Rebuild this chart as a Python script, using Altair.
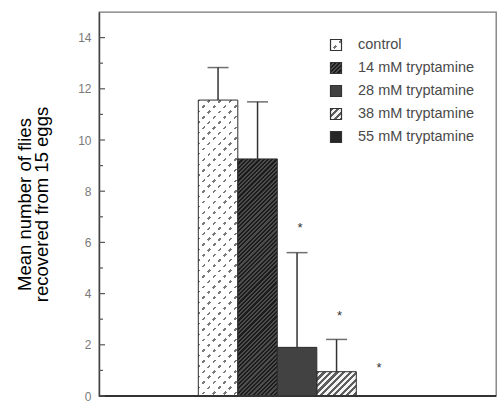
import math
import altair as alt
import pandas as pd

# ---------------- data ----------------
cats = ["control", "14 mM", "28 mM", "38 mM", "55 mM"]
legend_labels = ["control", "14 mM  tryptamine", "28 mM tryptamine",
                 "38 mM tryptamine", "55 mM tryptamine"]
means = [11.56, 9.26, 1.90, 0.95, 0.0]
err_upper = [12.83, 11.49, 5.60, 2.21, None]
star_cats = ["28 mM", "38 mM", "55 mM"]
star_y = [6.7, 3.3, 1.25]
y_major = [0, 2, 4, 6, 8, 10, 12, 14]
y_minor = [1, 3, 5, 7, 9, 11, 13]
y_title = ["Mean number of flies", "recovered from 15 eggs"]

# ---------------- layout / style ----------------
W, H = 397, 384
Y_MAX = 15
BAR_START, STEP = 99.3, 39.5
FONT = "Liberation Sans"

df = pd.DataFrame({"cat": cats, "mean": means, "up": err_upper})
df_bars = df[df["mean"] > 0]
df_err = df.dropna(subset=["up"])
df_star = pd.DataFrame({"cat": star_cats, "y": star_y})
df_major = pd.DataFrame({"v": y_major})
df_minor = pd.DataFrame({"v": y_minor})
df_base = pd.DataFrame({"v": [0]})
one = pd.DataFrame({"a": [0]})

xscale = alt.Scale(domain=cats, paddingInner=0, paddingOuter=0,
                   range=[BAR_START, BAR_START + STEP * len(cats)])
yscale = alt.Scale(domain=[0, Y_MAX], nice=False, zero=True)
xaxis = alt.Axis(labels=False, ticks=False, title=None, domain=False, grid=False)
yaxis = alt.Axis(values=y_major, ticks=False, grid=False, labelColor="#7a7a7a",
                 labelFontSize=12, labelFont=FONT, labelPadding=8,
                 domainColor="#444444", domainWidth=1.5, title=y_title,
                 titleFontSize=18.5, titleFont=FONT, titleFontWeight="normal",
                 titleColor="#000000", titleLineHeight=17, titlePadding=26)


def X():
    return alt.X("cat:N", scale=xscale, axis=xaxis, sort=cats)


def Yf(field):
    return alt.Y(field, scale=yscale, axis=yaxis)


def stripes(w, h, period, frac, c_line, c_gap, direction="/"):
    """Linear gradient that draws diagonal stripes in a w x h box."""
    L = w + h
    k = L / (w * w + h * h)
    a, b = w * k, h * k
    n = L / (period * math.sqrt(2))
    stops = []
    i = 0
    while i / n < 1:
        o0 = i / n
        o1 = min((i + frac) / n, 1)
        o2 = min((i + 1) / n, 1)
        stops += [alt.GradientStop(offset=o0, color=c_line),
                  alt.GradientStop(offset=o1, color=c_line),
                  alt.GradientStop(offset=o1, color=c_gap),
                  alt.GradientStop(offset=o2, color=c_gap)]
        i += 1
    if direction == "/":
        return alt.LinearGradient(gradient="linear", stops=stops, x1=0, y1=0, x2=a, y2=b)
    return alt.LinearGradient(gradient="linear", stops=stops, x1=0, y1=1, x2=a, y2=1 - b)


def fills(cat, w, h):
    """list of fills (bottom to top) for a bar of a category."""
    if cat == "control":
        return [stripes(w, h, 7.5, 0.24, "#7a7a7a", "#ffffff", "/"),
                stripes(w, h, 7.5, 0.55, "#ffffff", "rgba(255,255,255,0)", "\\")]
    if cat == "14 mM":
        return [stripes(w, h, 3.0, 0.5, "#1c1c1c", "#4c4c4c", "/")]
    if cat == "28 mM":
        return ["#424242"]
    if cat == "38 mM":
        return [stripes(w, h, 4.6, 0.48, "#5e5e5e", "#f4f4f4", "/")]
    return ["#262626"]


layers = []
for c, m in zip(cats, means):
    if m <= 0:
        continue
    h = m * H / Y_MAX
    for f in fills(c, STEP, h):
        layers.append(
            alt.Chart(df).transform_filter(alt.datum.cat == c)
            .mark_bar(fill=f, strokeWidth=0)
            .encode(x=X(), y=Yf("mean:Q"))
        )

# outlines of bars
layers.append(
    alt.Chart(df_bars)
    .mark_bar(fillOpacity=0, stroke="#2e2e2e", strokeWidth=1)
    .encode(x=X(), y=Yf("mean:Q"))
)

# baseline (bottom frame line)
layers.append(
    alt.Chart(df_base).mark_rule(color="#333333", strokeWidth=1.8)
    .encode(y=Yf("v:Q"), x=alt.value(0), x2=alt.value(W))
)

# error bars
layers.append(
    alt.Chart(df_err).mark_rule(color="#333333", strokeWidth=1.5)
    .encode(x=X(), y=Yf("mean:Q"), y2="up:Q")
)
layers.append(
    alt.Chart(df_err).mark_tick(color="#333333", thickness=1.5, size=21, orient="horizontal")
    .encode(x=X(), y=Yf("up:Q"))
)

# asterisks
layers.append(
    alt.Chart(df_star).mark_text(text="*", fontSize=13, font=FONT, color="#333333",
                                 baseline="middle", dx=3, dy=4)
    .encode(x=X(), y=Yf("y:Q"))
)

# inward y ticks
layers.append(
    alt.Chart(df_major).mark_rule(color="#555555", strokeWidth=1.2)
    .encode(y=Yf("v:Q"), x=alt.value(0), x2=alt.value(6))
)
layers.append(
    alt.Chart(df_minor).mark_rule(color="#555555", strokeWidth=1.2)
    .encode(y=Yf("v:Q"), x=alt.value(0), x2=alt.value(4))
)

# legend
LEG_X, LEG_Y0, LEG_DY, SQ = 237, 33, 23, 11
for i, (c, lab) in enumerate(zip(cats, legend_labels)):
    yc = LEG_Y0 + LEG_DY * i
    for f in fills(c, SQ, SQ):
        layers.append(
            alt.Chart(one).mark_rect(fill=f, strokeWidth=0)
            .encode(x=alt.value(LEG_X - SQ / 2), x2=alt.value(LEG_X + SQ / 2),
                    y=alt.value(yc - SQ / 2), y2=alt.value(yc + SQ / 2))
        )
    layers.append(
        alt.Chart(one).mark_rect(fillOpacity=0, stroke="#333333", strokeWidth=1.2)
        .encode(x=alt.value(LEG_X - SQ / 2), x2=alt.value(LEG_X + SQ / 2),
                y=alt.value(yc - SQ / 2), y2=alt.value(yc + SQ / 2))
    )
    layers.append(
        alt.Chart(one).mark_text(text=lab, font=FONT, fontSize=14.5, color="#4a4a4a",
                                 align="left", baseline="middle")
        .encode(x=alt.value(LEG_X + 22), y=alt.value(yc))
    )

chart = (
    alt.layer(*layers)
    .properties(width=W, height=H,
                autosize=alt.AutoSizeParams(type="none"),
                padding={"left": 99, "top": 12, "right": 4, "bottom": 6},
                background="white")
    .configure_view(stroke="#777777", strokeWidth=1.3)
)

chart.save("out.html", embed_options={"renderer": "svg", "actions": False})
